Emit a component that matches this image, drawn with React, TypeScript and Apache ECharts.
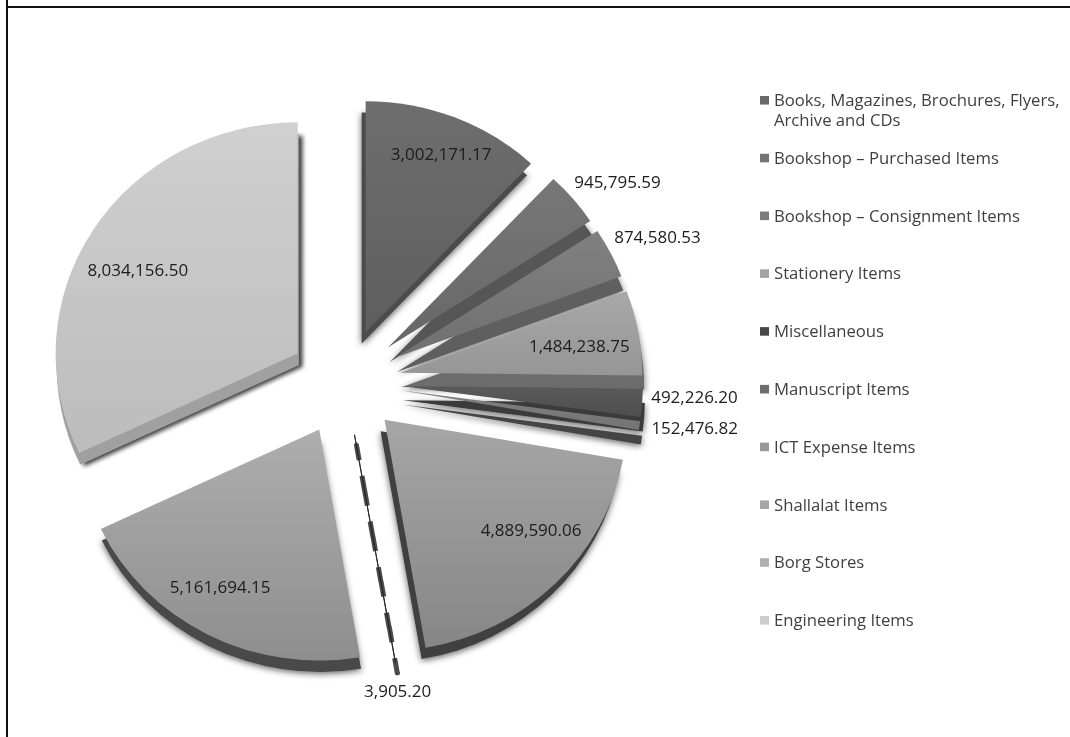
import React, { useEffect, useRef } from "react";
import * as echarts from "echarts";

const categories = [
  "Books, Magazines, Brochures, Flyers,",
  "Bookshop – Purchased Items",
  "Bookshop – Consignment Items",
  "Stationery Items",
  "Miscellaneous",
  "Manuscript Items",
  "ICT Expense Items",
  "Shallalat Items",
  "Borg Stores",
  "Engineering Items",
];
const legendSecondLine = "Archive and CDs";
const values = [
  3002171.17, 945795.59, 874580.53, 1484238.75, 492226.2, 152476.82,
  4889590.06, 3905.2, 5161694.15, 8034156.5,
];
const topLight = ["#6e6e6e", "#777777", "#808080", "#a8a8a8", "#5a5a5a", "#808080", "#a6a6a6", "#333333", "#aeaeae", "#d0d0d0"];
const topDark = ["#5e5e5e", "#676767", "#707070", "#969696", "#4e4e4e", "#747474", "#868686", "#333333", "#8e8e8e", "#bcbcbc"];
const sideColors = ["#4c4c4c", "#565656", "#5e5e5e", "#6c6c6c", "#3a3a3a", "#454545", "#404040", "#444444", "#484848", "#a0a0a0"];
const legendColors = ["#696969", "#747474", "#7c7c7c", "#a2a2a2", "#484848", "#6e6e6e", "#989898", "#a6a6a6", "#b0b0b0", "#cdcdcd"];
const insideSlices = [0, 3, 6, 8, 9];
const sideToRight = [8, 9];
const sideDeep = [1, 2, 3, 4, 5];
const labelNudgeX = [30, -7, -5, 57, 0, 3, 59, -37, -42, -55];
const labelNudgeY = [-72, -16, -15, -7, -7, 1, 27, 26, 55, -22];
const FONT = "'Open Sans', 'Noto Sans', sans-serif";
const SQUASH = 0.955;

const fmt = (v: number) =>
  v.toLocaleString("en-US", { minimumFractionDigits: 2, maximumFractionDigits: 2 });

export default function App() {
  const ref = useRef<HTMLDivElement>(null);
  useEffect(() => {
    document.body.style.margin = "0";
    document.body.style.background = "#fff";
    const chart = echarts.init(ref.current!, undefined, { renderer: "svg" });
    const common = {
      type: "pie",
      radius: [0, 242],
      startAngle: 90,
      clockwise: true,
      selectedMode: "multiple",
      selectedOffset: 56,
      avoidLabelOverlap: false,
      minShowLabelAngle: 0,
      emphasis: { disabled: true },
      silent: true,
    };
    const sideStyle = (i: number) => {
      if (i === 7) return { color: "#444", borderColor: "#4a4a4a", borderWidth: 5, borderType: [16, 32.4] };
      if (i === 9)
        return { color: sideColors[i], shadowBlur: 4, shadowOffsetX: 4, shadowOffsetY: 2, shadowColor: "rgba(0,0,0,0.75)" };
      return { color: sideColors[i], shadowBlur: 7, shadowOffsetY: 2, shadowColor: "rgba(0,0,0,0.6)" };
    };
    const hidden = { color: "transparent", borderWidth: 0, shadowBlur: 0 };
    const sideSeries = (name: string, center: number[], members: (i: number) => boolean) => ({
      ...common,
      name,
      center,
      z: 1,
      label: { show: false },
      labelLine: { show: false },
      data: categories.map((n, i) => {
        const s = members(i) ? sideStyle(i) : hidden;
        return { name: n, value: values[i], selected: true, itemStyle: s, select: { itemStyle: s } };
      }),
    });
    chart.setOption({
      animation: false,
      backgroundColor: "#fff",
      graphic: [
        { type: "line", shape: { x1: 7, y1: 0, x2: 7, y2: 772 }, style: { stroke: "#111", lineWidth: 2 } },
        { type: "line", shape: { x1: 6, y1: 7.3, x2: 1070, y2: 7.3 }, style: { stroke: "#111", lineWidth: 2 } },
        {
          type: "text",
          x: 774,
          y: 125.5,
          style: { text: legendSecondLine, fontFamily: FONT, fontSize: 16.7, fill: "#3f3f3f", verticalAlign: "middle" },
        },
      ],
      legend: {
        orient: "vertical",
        left: 760,
        top: 95,
        padding: 0,
        itemWidth: 9,
        itemHeight: 9,
        itemGap: 40.5,
        icon: "rect",
        selectedMode: false,
        textStyle: { fontFamily: FONT, fontSize: 16.7, color: "#3f3f3f", lineHeight: 20 },
        data: categories.map((name, i) => ({ name, itemStyle: { color: legendColors[i], borderWidth: 0 } })),
      },
      series: [
        sideSeries("sideLeft", [341, 412], (i) => i === 0 || i === 6),
        sideSeries("sideDeep", [347, 415], (i) => sideDeep.includes(i)),
        sideSeries("sideRight", [346, 412], (i) => sideToRight.includes(i)),
        sideSeries("sideThin", [347, 411], (i) => i === 7),
        {
          ...common,
          name: "top",
          center: [345, 400],
          z: 2,
          labelLine: { show: false, length: 4, length2: 0 },
          label: {
            show: true,
            fontFamily: FONT,
            fontSize: 17,
            color: "#1c1c1c",
            formatter: (p: any) => fmt(p.value),
          },
          labelLayout: (p: any) => ({ dx: labelNudgeX[p.dataIndex], dy: labelNudgeY[p.dataIndex] }),
          data: categories.map((name, i) => {
            const fill =
              i === 7
                ? { color: "#2a2a2a", borderColor: "#2a2a2a", borderWidth: 1 }
                : {
                    color: new echarts.graphic.LinearGradient(0, 0, 0, 1, [
                      { offset: 0, color: topLight[i] },
                      { offset: 1, color: topDark[i] },
                    ]),
                  };
            return {
              name,
              value: values[i],
              selected: true,
              itemStyle: fill,
              select: { itemStyle: fill, label: { show: true, color: "#1c1c1c" } },
              label: { position: insideSlices.includes(i) ? "inside" : "outside" },
              labelLine: { show: false },
            };
          }),
        },
      ],
    });
    return () => chart.dispose();
  }, []);
  return (
    <div style={{ width: 1070, height: 737, overflow: "hidden" }}>
      <div
        ref={ref}
        style={{ width: 1070, height: 772, transform: `scaleY(${SQUASH})`, transformOrigin: "0 0" }}
      />
    </div>
  );
}
